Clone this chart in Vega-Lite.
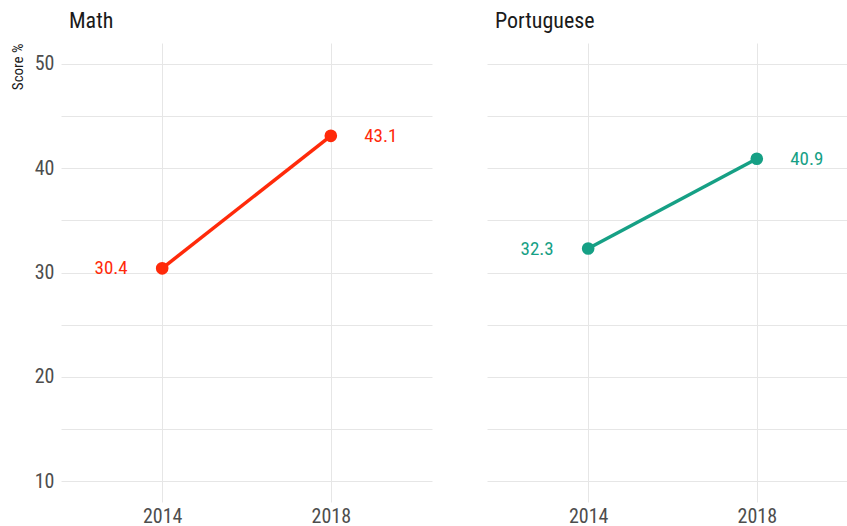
{
  "$schema": "https://vega.github.io/schema/vega-lite/v6.json",
  "autosize": {"type": "pad"},
  "padding": {"left": 10, "top": 10, "right": 0, "bottom": 0},
  "background": "white",
  "config": {
    "font": "Roboto Condensed, Liberation Sans Narrow, Roboto",
    "view": {"stroke": null},
    "axis": {
      "gridColor": "#e6e6e6",
      "gridWidth": 1,
      "domain": false,
      "ticks": false,
      "labelFont": "Roboto Condensed, Liberation Sans Narrow, Roboto",
      "labelFontSize": 20,
      "labelColor": "#4d4d4d"
    },
    "title": {"font": "Roboto Condensed, Liberation Sans Narrow, Roboto", "fontSize": 22, "fontWeight": "normal", "color": "#1a1a1a", "anchor": "start", "frame": "group"}
  },
  "datasets": {
    "scores": [
      {"subject": "Math", "year": 2014, "score": 30.4},
      {"subject": "Math", "year": 2018, "score": 43.1},
      {"subject": "Portuguese", "year": 2014, "score": 32.3},
      {"subject": "Portuguese", "year": 2018, "score": 40.9}
    ]
  },
  "spacing": 55,
  "hconcat": [
    {
      "width": 371,
      "height": 459,
      "title": {"text": "Math", "dx": 8, "offset": 10, "frame": "group"},
      "data": {"name": "scores"},
      "transform": [{"filter": "datum.subject === 'Math'"}],
      "encoding": {
        "x": {"field": "year", "type": "quantitative",
          "scale": {"domain": [2011.6, 2020.4], "nice": false, "zero": false},
          "axis": {"values": [2014, 2018], "format": "d", "title": null, "labelPadding": 20, "labelBaseline": "alphabetic"}},
        "y": {"field": "score", "type": "quantitative",
          "scale": {"domain": [8, 52], "nice": false, "zero": false},
          "axis": {"values": [10, 15, 20, 25, 30, 35, 40, 45, 50],
            "labelExpr": "datum.value % 10 === 0 ? datum.label : ''",
            "title": "Score %", "titleFontSize": 15, "titleFontWeight": "normal", "titleColor": "#1a1a1a",
            "titleAnchor": "end", "titlePadding": 9, "labelPadding": 7}},
        "color": {"field": "subject", "type": "nominal",
          "scale": {"domain": ["Math", "Portuguese"], "range": ["#ff2a0a", "#16a085"]}, "legend": null}
      },
      "layer": [
        {"mark": {"type": "line", "strokeWidth": 3.5}},
        {"mark": {"type": "circle", "size": 160, "opacity": 1}},
        {"transform": [{"filter": "datum.year === 2014"}],
          "mark": {"type": "text", "dx": -51, "fontSize": 19, "baseline": "middle"},
          "encoding": {"text": {"field": "score", "type": "quantitative", "format": ".1f"}}},
        {"transform": [{"filter": "datum.year === 2018"}],
          "mark": {"type": "text", "dx": 50, "fontSize": 19, "baseline": "middle"},
          "encoding": {"text": {"field": "score", "type": "quantitative", "format": ".1f"}}}
      ]
    },
    {
      "width": 360,
      "height": 459,
      "title": {"text": "Portuguese", "dx": 8, "offset": 10, "frame": "group"},
      "data": {"name": "scores"},
      "transform": [{"filter": "datum.subject === 'Portuguese'"}],
      "encoding": {
        "x": {"field": "year", "type": "quantitative",
          "scale": {"domain": [2011.6, 2020.14], "nice": false, "zero": false},
          "axis": {"values": [2014, 2018], "format": "d", "title": null, "labelPadding": 20, "labelBaseline": "alphabetic"}},
        "y": {"field": "score", "type": "quantitative",
          "scale": {"domain": [8, 52], "nice": false, "zero": false},
          "axis": {"values": [10, 15, 20, 25, 30, 35, 40, 45, 50], "labels": false, "title": null}},
        "color": {"field": "subject", "type": "nominal",
          "scale": {"domain": ["Math", "Portuguese"], "range": ["#ff2a0a", "#16a085"]}, "legend": null}
      },
      "layer": [
        {"mark": {"type": "line", "strokeWidth": 3.5}},
        {"mark": {"type": "circle", "size": 160, "opacity": 1}},
        {"transform": [{"filter": "datum.year === 2014"}],
          "mark": {"type": "text", "dx": -51, "fontSize": 19, "baseline": "middle"},
          "encoding": {"text": {"field": "score", "type": "quantitative", "format": ".1f"}}},
        {"transform": [{"filter": "datum.year === 2018"}],
          "mark": {"type": "text", "dx": 50, "fontSize": 19, "baseline": "middle"},
          "encoding": {"text": {"field": "score", "type": "quantitative", "format": ".1f"}}}
      ]
    }
  ]
}
